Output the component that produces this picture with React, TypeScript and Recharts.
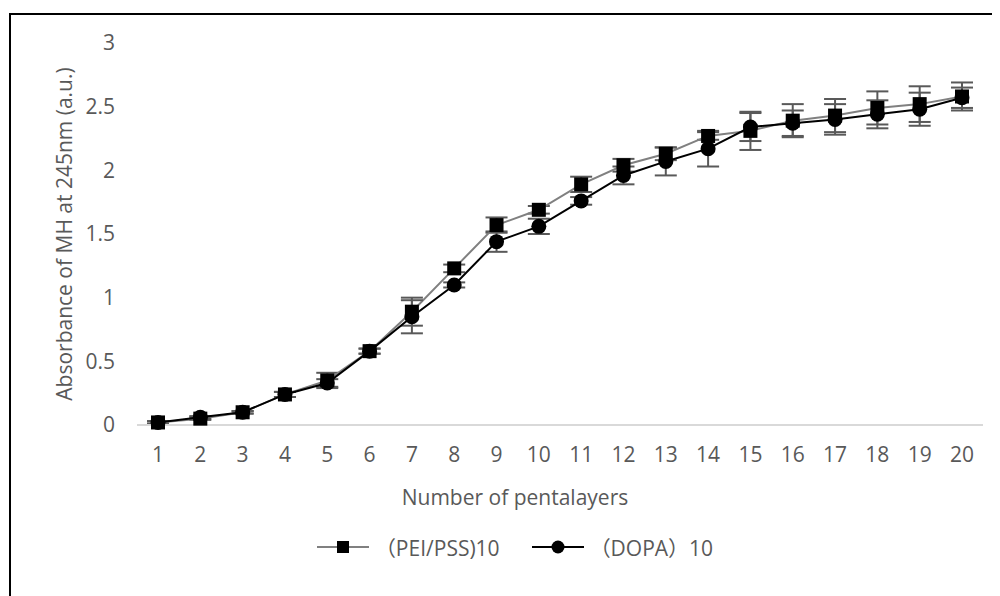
import React from 'react';
import { LineChart, Line, XAxis, YAxis, ErrorBar, Legend, Label } from 'recharts';

const layers = ['1','2','3','4','5','6','7','8','9','10','11','12','13','14','15','16','17','18','19','20'];
const peiValues = [0.02,0.05,0.10,0.24,0.35,0.58,0.89,1.23,1.57,1.69,1.89,2.04,2.13,2.27,2.31,2.39,2.43,2.49,2.52,2.58];
const peiErrors = [0.01,0.01,0.01,0.02,0.06,0.02,0.11,0.03,0.06,0.03,0.06,0.05,0.05,0.03,0.15,0.13,0.13,0.13,0.14,0.11];
const dopaValues = [0.02,0.06,0.10,0.24,0.33,0.58,0.85,1.10,1.44,1.56,1.76,1.96,2.07,2.17,2.34,2.37,2.40,2.44,2.48,2.57];
const dopaErrors = [0.01,0.01,0.01,0.02,0.03,0.02,0.13,0.02,0.08,0.06,0.03,0.07,0.11,0.14,0.11,0.10,0.12,0.11,0.13,0.08];
const yTicks = [0, 0.5, 1, 1.5, 2, 2.5, 3];
const seriesNames = ['（PEI/PSS)10', '（DOPA）10'];

const data = layers.map((l, i) => ({
  layer: l,
  pei: peiValues[i],
  peiErr: peiErrors[i],
  dopa: dopaValues[i],
  dopaErr: dopaErrors[i],
}));

const FONT = '"Open Sans", "Noto Sans CJK SC", sans-serif';
const TEXT = '#595959';

const SquareDot = (props: any) => {
  const { cx, cy } = props;
  if (cx == null || cy == null) return null;
  return <rect x={cx - 7} y={cy - 7} width={14} height={14} fill="#000" />;
};
const CircleDot = (props: any) => {
  const { cx, cy } = props;
  if (cx == null || cy == null) return null;
  return <circle cx={cx} cy={cy} r={7.5} fill="#000" />;
};

const LegendContent = () => (
  <div style={{ display: 'flex', justifyContent: 'center', alignItems: 'center', fontFamily: FONT, fontSize: 21, color: TEXT }}>
    <div style={{ display: 'flex', alignItems: 'center' }}>
      <svg width={52} height={16}>
        <line x1={0} y1={8} x2={52} y2={8} stroke="#808080" strokeWidth={2} />
        <rect x={20} y={2} width={12} height={12} fill="#000" />
      </svg>
      <span style={{ marginLeft: 6 }}>{seriesNames[0]}</span>
    </div>
    <div style={{ display: 'flex', alignItems: 'center', marginLeft: 32 }}>
      <svg width={52} height={16}>
        <line x1={0} y1={8} x2={52} y2={8} stroke="#000" strokeWidth={2} />
        <circle cx={26} cy={8} r={6.5} fill="#000" />
      </svg>
      <span style={{ marginLeft: 6 }}>{seriesNames[1]}</span>
    </div>
  </div>
);

export default function App() {
  return (
    <div style={{ position: 'relative', width: 992, height: 588, overflow: 'hidden' }}>
      <div style={{ position: 'absolute', left: 1, top: 5, width: 1100, height: 700, borderLeft: '2px solid #000', borderTop: '2px solid #000' }} />
      <div style={{ position: 'absolute', left: 0, top: 0 }}>
        <LineChart width={1014} height={588} data={data} margin={{ top: 35, right: 39, left: 0, bottom: 71 }}>
          <XAxis
            dataKey="layer"
            type="category"
            axisLine={{ stroke: '#d9d9d9', strokeWidth: 2 }}
            tickLine={false}
            tickSize={0}
            tickMargin={22}
            padding={{ left: 21, right: 21 }}
            tick={{ fill: TEXT, fontSize: 21, fontFamily: FONT }}
            height={100}
            interval={0}
          >
            <Label value="Number of pentalayers" position="insideBottom" offset={20} dx={-45} fill={TEXT} fontSize={21} fontFamily={FONT} />
          </XAxis>
          <YAxis
            domain={[0, 3]}
            ticks={yTicks}
            axisLine={false}
            tickLine={false}
            tickSize={0}
            tickMargin={22}
            width={129}
            tick={{ fill: TEXT, fontSize: 21, fontFamily: FONT }}
          >
            <Label value="Absorbance of MH at 245nm (a.u.)" angle={-90} position="center" dx={-8} fill={TEXT} fontSize={21} fontFamily={FONT} />
          </YAxis>
          <Legend verticalAlign="middle" align="center" wrapperStyle={{ top: 524, left: 0, width: 1014, height: 28 }} content={<LegendContent />} />
          <Line dataKey="pei" stroke="#808080" strokeWidth={2} dot={<SquareDot />} activeDot={false} isAnimationActive={false}>
            <ErrorBar dataKey="peiErr" width={11} stroke="#595959" strokeWidth={2} direction="y" />
          </Line>
          <Line dataKey="dopa" stroke="#000" strokeWidth={2} dot={<CircleDot />} activeDot={false} isAnimationActive={false}>
            <ErrorBar dataKey="dopaErr" width={11} stroke="#595959" strokeWidth={2} direction="y" />
          </Line>
        </LineChart>
      </div>
    </div>
  );
}
